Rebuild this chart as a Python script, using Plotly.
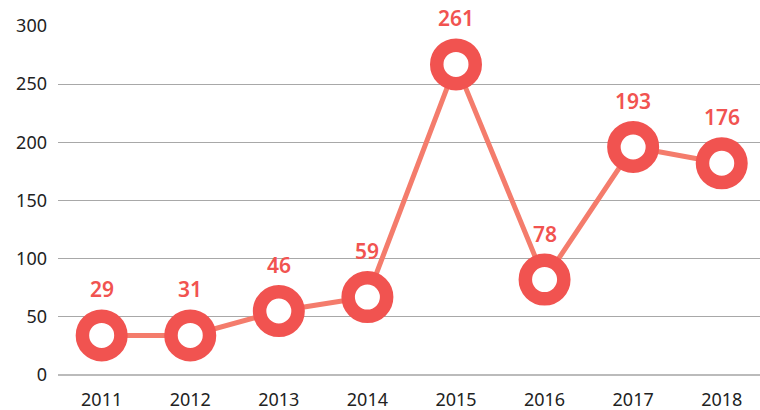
import plotly.graph_objects as go

years = ["2011", "2012", "2013", "2014", "2015", "2016", "2017", "2018"]
# plotted heights
plotted = [34, 34, 55, 67, 267, 82, 196, 182]
# printed labels
labels = [29, 31, 46, 59, 261, 78, 193, 176]
y_ticks = [0, 50, 100, 150, 200, 250, 300]

RING = "#F15350"
LINE = "#F47C6C"
FONT = "Noto Sans"

fig = go.Figure()
fig.add_trace(go.Scatter(
    x=years, y=plotted, mode="lines+markers",
    line=dict(color=LINE, width=5),
    marker=dict(size=38.5, color="white", line=dict(color=RING, width=13.5)),
    cliponaxis=False, hoverinfo="skip", showlegend=False,
))

for i, (yv, lb) in enumerate(zip(plotted, labels)):
    fig.add_annotation(x=i, y=yv, xref="x", yref="y", text=str(lb),
                       showarrow=False, yshift=46,
                       font=dict(family=FONT, size=21, color=RING, weight=600))

fig.update_layout(
    width=760, height=410,
    margin=dict(l=58, r=0, t=26, b=35),
    paper_bgcolor="white", plot_bgcolor="white",
    font=dict(family=FONT, size=18, color="#222222"),
    xaxis=dict(type="category", range=[-0.493, 7.432], showgrid=False,
               showline=False, zeroline=False, ticks="", fixedrange=True,
               ticklabelstandoff=12, automargin=False),
    yaxis=dict(range=[0, 300], tickvals=y_ticks, showgrid=True,
               gridcolor="#A8A8A8", gridwidth=1, zeroline=True,
               zerolinecolor="#BBBBBB", zerolinewidth=2, showline=False,
               ticks="", ticklabelstandoff=10, automargin=False),
)

fig.write_html("out.html", config={"displayModeBar": False},
               post_script="document.body.style.margin='0';document.body.style.overflow='hidden';")
